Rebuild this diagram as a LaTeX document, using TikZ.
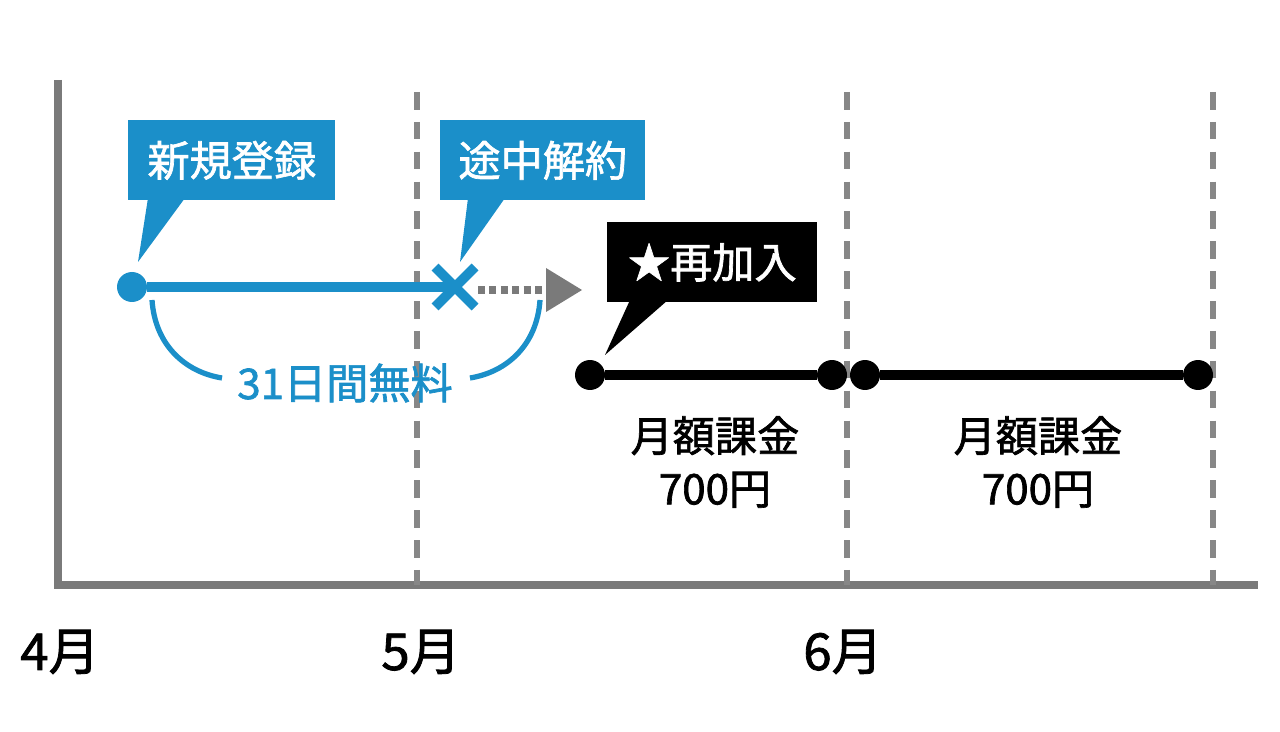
\documentclass[tikz,border=0pt]{standalone}
\usepackage{fontspec}
\newfontfamily\jp{Noto Sans CJK JP}[FakeBold=1.6]
\usepackage{tikz}
\definecolor{kblue}{HTML}{1B8FC9}
\definecolor{kgray}{HTML}{7A7A7A}
\tikzset{
	callout/.style={fill=#1, text=white, font=\jp\fontsize{24}{28}\selectfont, minimum height=1.6cm, inner xsep=0.3cm, anchor=north west},
	dot/.style={circle, fill=#1, inner sep=0pt, minimum size=0.6cm},
	tlabel/.style={font=\jp\fontsize{24}{30}\selectfont, align=center}
}
\begin{document}
\begin{tikzpicture}[x=0.02cm, y=-0.02cm]
	\useasboundingbox (0,0) rectangle (1280,732);
	% axes
	\draw [kgray, line width=4.5pt] (58,80) -- (58,585) -- (1258,585);
	\foreach \x in {417,847,1213}
		\draw [kgray!90, line width=3pt, dash pattern=on 10pt off 7pt] (\x,92) -- (\x,585);
	% month labels
	\node [tlabel, font=\jp\fontsize{29}{32}\selectfont] (m4) at (60,652) {4月};
	\node [tlabel, font=\jp\fontsize{29}{32}\selectfont] (m5) at (421,652) {5月};
	\node [tlabel, font=\jp\fontsize{29}{32}\selectfont] (m6) at (843,652) {6月};
	% free period
	\node [dot=kblue] (start) at (132,287) {};
	\coordinate (cancel) at (455,287);
	\draw [kblue, line width=5.5pt] (start) -- (cancel);
	\draw [kblue, line width=5.5pt] (435,267) -- (475,307) (475,267) -- (435,307);
	\draw [kgray, line width=4.5pt, dash pattern=on 4pt off 2.5pt] (478,290) -- (548,290);
	\fill [kgray] (546,268) -- (582,290) -- (546,312) -- cycle;
	\draw [kblue, line width=3pt] (152,300) .. controls (155,345) and (185,372) .. (222,378);
	\draw [kblue, line width=3pt] (540,300) .. controls (537,345) and (507,372) .. (470,378);
	\node [tlabel, text=kblue] (free) at (345,383) {31日間無料};
	% callouts
	\node [callout=kblue, minimum width=4.14cm] (join) at (128,120) {新規登録};
	\fill [kblue] (148,198) -- (185,198) -- (138,262) -- cycle;
	\node [callout=kblue, minimum width=4.1cm] (quit) at (440,120) {途中解約};
	\fill [kblue] (468,198) -- (505,198) -- (460,262) -- cycle;
	\node [callout=black, minimum width=4.2cm] (rejoin) at (607,222) {\jp ★再加入};
	\fill [black] (630,300) -- (668,300) -- (605,355) -- cycle;
	% billing periods
	\node [dot=black] (a1) at (590,375) {};
	\node [dot=black] (a2) at (832,375) {};
	\node [dot=black] (b1) at (865,375) {};
	\node [dot=black] (b2) at (1198,375) {};
	\draw [black, line width=5.5pt] (a1) -- (a2);
	\draw [black, line width=5.5pt] (b1) -- (b2);
	\node [tlabel] (fee1) at (715,462) {月額課金\\700円};
	\node [tlabel] (fee2) at (1038,462) {月額課金\\700円};
\end{tikzpicture}
\end{document}
